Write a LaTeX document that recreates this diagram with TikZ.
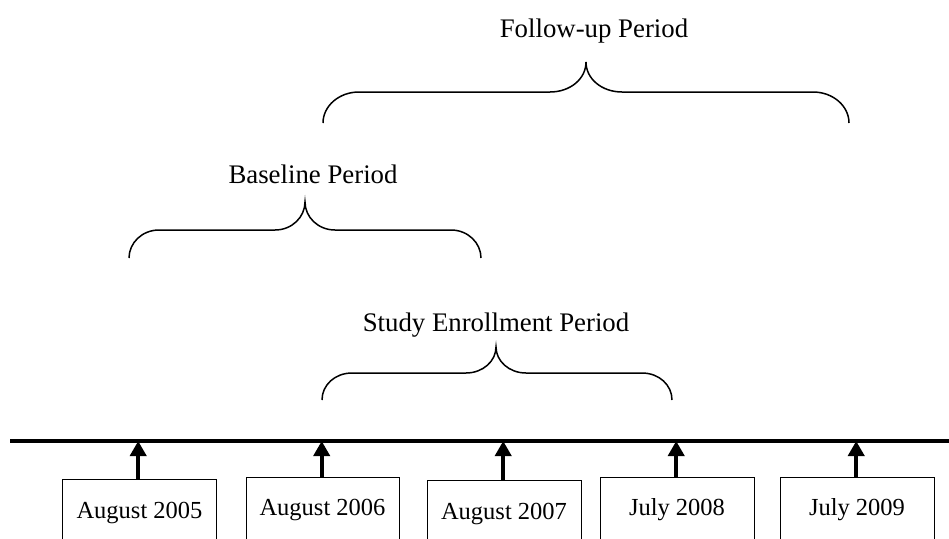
\documentclass[tikz,border=0pt]{standalone}
\usepackage{fontspec}
\setmainfont{Liberation Serif}
\usetikzlibrary{arrows.meta}
\tikzset{
  lbl/.style={anchor=base, inner sep=0pt, font=\fontsize{26.8}{31}\selectfont},
  boxtxt/.style={anchor=base, inner sep=0pt, font=\fontsize{24.5}{29}\selectfont},
  datebox/.style={draw, line width=1.4pt, anchor=north west, inner sep=0pt, minimum height=90pt},
  brace/.style={draw, line width=1.5pt},
  axis/.style={line width=3.5pt},
  tick/.style={line width=4pt, -{Triangle[length=15pt,width=16pt]}},
}
\begin{document}
\begin{tikzpicture}[x=1pt,y=-1pt]
\useasboundingbox (0,0) rectangle (949,538);
\clip (0,0) rectangle (949,538);
% axis
\coordinate (L) at (10,441);
\coordinate (R) at (955,441);
\draw[axis] (L) -- (R);
% boxes
\node[datebox, minimum width=154pt] (b1) at (62,479) {};
\node[datebox, minimum width=153pt] (b2) at (246,477) {};
\node[datebox, minimum width=154pt] (b3) at (427,480) {};
\node[datebox, minimum width=154pt] (b4) at (600,477) {};
\node[datebox, minimum width=154pt] (b5) at (780,477) {};
\node[boxtxt] (t1) at (139.5,518) {August 2005};
\node[boxtxt] (t2) at (322.5,515) {August 2006};
\node[boxtxt] (t3) at (504,519) {August 2007};
\node[boxtxt] (t4) at (677,515) {July 2008};
\node[boxtxt] (t5) at (857,515) {July 2009};
% arrows
\foreach \b in {b1,b2,b3,b4,b5}{
  \draw[tick] ([xshift=-1.5pt]\b.north) -- ([xshift=-1.5pt]\b.north |- L);
}
% braces
\draw[brace] (323,123) .. controls (323,106) and (339,92) .. (359,92) -- (550,92)
  .. controls (570,92) and (586,79) .. (586,62)
  .. controls (586,79) and (602,92) .. (622,92) -- (813,92)
  .. controls (833,92) and (849,106) .. (849,123);
\node[lbl] (fu) at (594,37) {Follow-up Period};
\draw[brace] (129,258) .. controls (129,243) and (142,230) .. (159,230) -- (275,230)
  .. controls (292,230) and (305,217) .. (305,202)
  .. controls (305,217) and (318,230) .. (335,230) -- (451,230)
  .. controls (468,230) and (481,243) .. (481,258);
\node[lbl] (bp) at (313,183) {Baseline Period};
\draw[brace] (322,400) .. controls (322,385) and (335,373) .. (352,373) -- (466,373)
  .. controls (483,373) and (496,361) .. (496,347)
  .. controls (496,361) and (509,373) .. (526,373) -- (642,373)
  .. controls (659,373) and (672,385) .. (672,400);
\node[lbl] (se) at (496,331) {Study Enrollment Period};
\end{tikzpicture}
\end{document}
